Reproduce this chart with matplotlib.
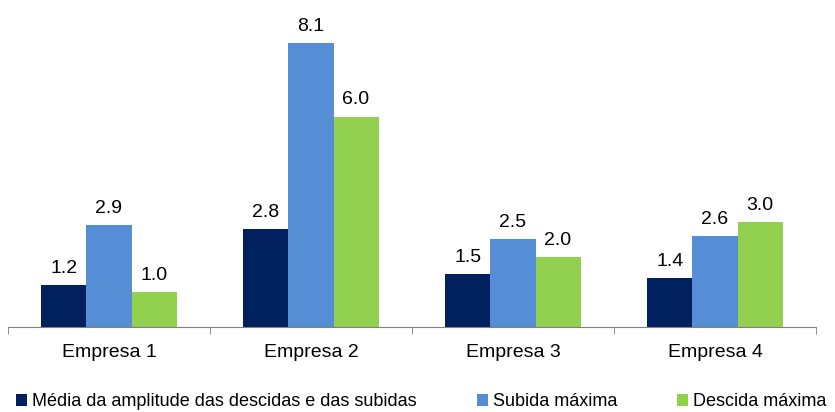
import numpy as np
import matplotlib.pyplot as plt

plt.rcParams['font.family'] = ['Liberation Sans', 'DejaVu Sans']

empresas = ["Empresa 1", "Empresa 2", "Empresa 3", "Empresa 4"]
series_names = ["Média da amplitude das descidas e das subidas", "Subida máxima", "Descida máxima"]
media = [1.2, 2.8, 1.5, 1.4]
subida = [2.9, 8.1, 2.5, 2.6]
descida = [1.0, 6.0, 2.0, 3.0]
colors = ["#00215E", "#558ED5", "#92D050"]

fig = plt.figure(figsize=(8.35, 4.12), dpi=100)
ax = fig.add_axes([8/835, 85/412, 808/835, 327/412])

x = np.arange(len(empresas))
w = 0.223
handles = []
for i, (vals, name, c) in enumerate(zip([media, subida, descida], series_names, colors)):
    bars = ax.bar(x + (i - 1) * w, vals, w, color=c, label=name)
    handles.append(bars)
    for b, v in zip(bars, vals):
        ax.annotate(f"{v:.1f}", (b.get_x() + b.get_width() / 2, v), xytext=(0, 6),
                    textcoords="offset points", ha="center", va="bottom", fontsize=14)

ax.set_xlim(-0.5, len(empresas) - 0.5)
ax.set_ylim(0, 9.33)
for s in ["top", "right", "left"]:
    ax.spines[s].set_visible(False)
ax.spines["bottom"].set_color("#808080")
ax.set_yticks([])
ax.set_xticks(x)
ax.set_xticklabels(empresas, fontsize=14)
ax.tick_params(axis="x", which="major", length=0, pad=12)
ax.set_xticks(np.arange(len(empresas) + 1) - 0.5, minor=True)
ax.tick_params(axis="x", which="minor", length=5, color="#808080")

fig.legend(handles=handles, labels=series_names, loc="lower left", bbox_to_anchor=(0, -0.035),
           ncol=3, frameon=False, fontsize=13, handlelength=0.6, handleheight=0.6,
           handletextpad=0.3, columnspacing=3.3)

fig.savefig("out.png", dpi=100)
